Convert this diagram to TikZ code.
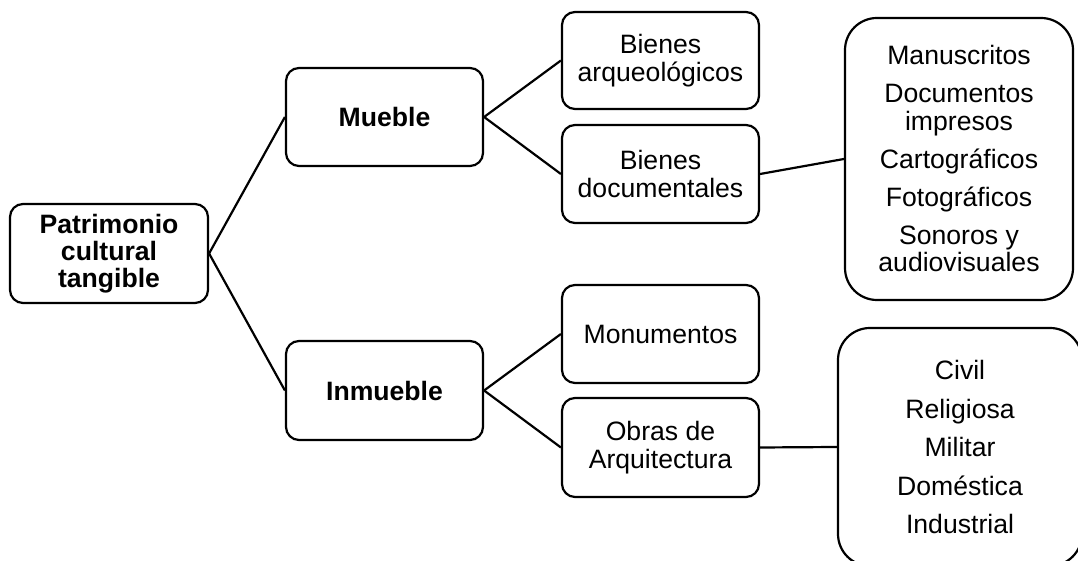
\documentclass[tikz,border=0pt]{standalone}
\usepackage{fontspec}
\setmainfont{Liberation Sans}
\begin{document}
\begin{tikzpicture}[x=1pt,y=1pt,
  box/.style={draw=black, line width=2.2pt, rounded corners=13pt, inner sep=0pt,
    align=center, font=\fontsize{26.6}{27.5}\selectfont, text=black},
  listbox/.style={box, rounded corners=32pt},
  conn/.style={draw=black, line width=2.2pt}]
\useasboundingbox (0,0) rectangle (1078,561);
\fill[white] (0,0) rectangle (1078,561);
\node[box, minimum width=198pt, minimum height=99pt, font=\fontsize{26.6}{27}\selectfont\bfseries] (pat) at (109,307.5) {Patrimonio\\cultural\\tangible};
\node[box, minimum width=197pt, minimum height=98pt, font=\fontsize{26.6}{27}\selectfont\bfseries] (mue) at (384.5,444) {Mueble};
\node[box, minimum width=197pt, minimum height=99pt, font=\fontsize{26.6}{27}\selectfont\bfseries] (inm) at (384.5,170.5) {Inmueble};
\node[box, minimum width=197pt, minimum height=97pt] (arq) at (660.5,500.5) {Bienes\\arqueológicos};
\node[box, minimum width=197pt, minimum height=98pt] (doc) at (660.5,387) {Bienes\\documentales};
\node[box, minimum width=197pt, minimum height=98pt] (mon) at (660.5,227) {Monumentos};
\node[box, minimum width=197pt, minimum height=99pt] (obr) at (660.5,113.5) {Obras de\\Arquitectura};
\node[listbox, minimum width=228pt, minimum height=282pt] (l1) at (959,402) {Manuscritos\\[10.5pt]Documentos\\impresos\\[10.5pt]Cartográficos\\[10.5pt]Fotográficos\\[10.5pt]Sonoros y\\audiovisuales};
\node[listbox, minimum width=244pt, minimum height=238pt] (l2) at (960,114) {Civil\\[11pt]Religiosa\\[11pt]Militar\\[11pt]Doméstica\\[11pt]Industrial};
\draw[conn] (pat.east) -- (mue.west);
\draw[conn] (pat.east) -- (inm.west);
\draw[conn] (mue.east) -- (arq.west);
\draw[conn] (mue.east) -- (doc.west);
\draw[conn] (inm.east) -- (mon.west);
\draw[conn] (inm.east) -- (obr.west);
\draw[conn] (doc.east) -- (l1.west);
\draw[conn] (obr.east) -- (l2.west);
\end{tikzpicture}
\end{document}
